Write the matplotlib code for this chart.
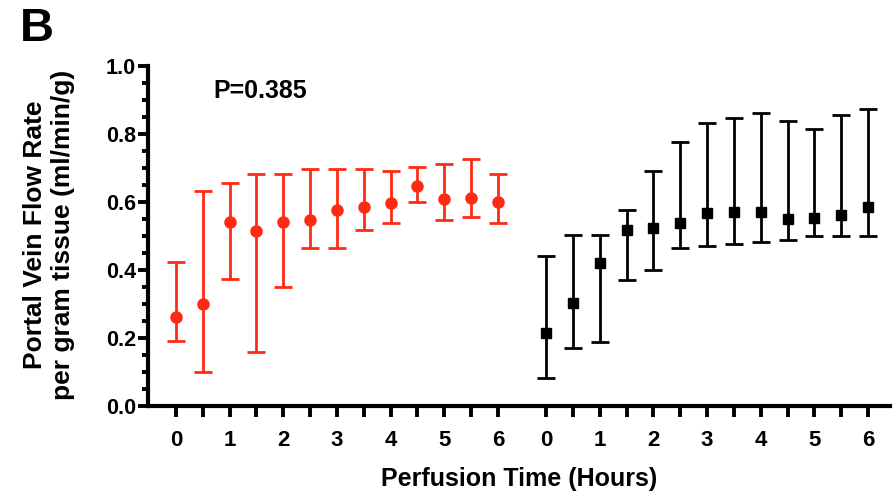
import numpy as np
import matplotlib.pyplot as plt

plt.rcParams['font.family'] = ['Liberation Sans', 'DejaVu Sans']
plt.rcParams['font.weight'] = 'bold'

# Perfusion time points (hours)
hours = [0, 0.5, 1, 1.5, 2, 2.5, 3, 3.5, 4, 4.5, 5, 5.5, 6]

# Red group (circles): mean, upper and lower error limits
red_mean = [0.263, 0.299, 0.542, 0.515, 0.542, 0.547, 0.578, 0.586, 0.596, 0.647, 0.608, 0.613, 0.601]
red_upper = [0.424, 0.633, 0.657, 0.682, 0.682, 0.698, 0.698, 0.698, 0.691, 0.702, 0.712, 0.726, 0.684]
red_lower = [0.192, 0.101, 0.373, 0.160, 0.349, 0.466, 0.466, 0.518, 0.537, 0.600, 0.547, 0.555, 0.537]

# Black group (squares)
blk_mean = [0.216, 0.302, 0.422, 0.518, 0.523, 0.537, 0.567, 0.572, 0.572, 0.549, 0.552, 0.562, 0.586]
blk_upper = [0.441, 0.503, 0.503, 0.576, 0.691, 0.776, 0.833, 0.846, 0.861, 0.838, 0.814, 0.856, 0.873]
blk_lower = [0.083, 0.172, 0.189, 0.371, 0.400, 0.466, 0.471, 0.476, 0.483, 0.488, 0.500, 0.500, 0.500]

hour_labels = ['0', '1', '2', '3', '4', '5', '6']
p_text = 'P=0.385'

offset = 6.9  # second block starts after a gap
red_x = np.array(hours)
blk_x = np.array(hours) + offset

red_color = '#ff2a14'

fig = plt.figure(figsize=(8.95, 4.97), dpi=100)
ax = fig.add_axes([0.1654, 0.183, 0.829, 0.684])

rm = np.array(red_mean)
ax.errorbar(red_x, rm, yerr=[rm - np.array(red_lower), np.array(red_upper) - rm],
            fmt='o', color=red_color, ms=8, elinewidth=2, capsize=6.2, capthick=2)
bm = np.array(blk_mean)
ax.errorbar(blk_x, bm, yerr=[bm - np.array(blk_lower), np.array(blk_upper) - bm],
            fmt='s', color='black', ms=7.8, elinewidth=2, capsize=6.2, capthick=2)

ax.set_xlim(-0.52, offset + 6.41)
ax.set_ylim(0, 1.0)

major_x = list(red_x[::2]) + list(blk_x[::2])
minor_x = list(red_x[1::2]) + list(blk_x[1::2])
ax.set_xticks(major_x)
ax.set_xticklabels(hour_labels + hour_labels)
ax.set_xticks(minor_x, minor=True)
ax.set_yticks(np.arange(0, 1.01, 0.2))
ax.set_yticklabels(['0.0', '0.2', '0.4', '0.6', '0.8', '1.0'])
ax.set_yticks(np.arange(0, 1.001, 0.05), minor=True)

ax.tick_params(axis='x', which='both', length=8, width=2.8, labelsize=16, pad=9)
ax.tick_params(axis='y', which='major', length=7.5, width=2.8, labelsize=15.5, pad=1)
ax.tick_params(axis='y', which='minor', length=4, width=2.8)

for s in ['top', 'right']:
    ax.spines[s].set_visible(False)
for s in ['left', 'bottom']:
    ax.spines[s].set_linewidth(3)

ax.set_xlabel('Perfusion Time (Hours)', fontsize=18, fontweight='bold')
ax.xaxis.set_label_coords(0.5, -0.18)
ax.set_ylabel('Portal Vein Flow Rate\nper gram tissue (ml/min/g)', fontsize=19,
              fontweight='bold', linespacing=1.25)
ax.yaxis.set_label_coords(-0.098, 0.503)

ax.text(0.70, 0.926, p_text, fontsize=18, fontweight='bold', va='center', ha='left')
fig.text(0.022, 0.985, 'B', fontsize=34, fontweight='bold', va='top', ha='left')

plt.savefig('out.png', dpi=100)
